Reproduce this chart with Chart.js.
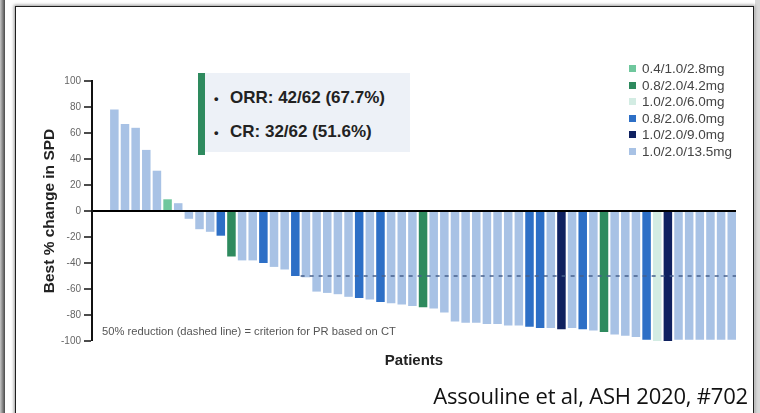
<!DOCTYPE html>
<html>
<head>
<meta charset="utf-8">
<script src="https://cdn.jsdelivr.net/npm/chart.js@4.4.0/dist/chart.umd.min.js"></script>
<style>
  html, body { margin: 0; padding: 0; background: #fff; }
  body { width: 760px; height: 413px; overflow: hidden; position: relative; font-family: "Liberation Sans", Arial, sans-serif; }
  #strip { position: absolute; left: 0; top: 0; width: 5px; height: 413px; background: linear-gradient(to right, #c8c8c8, #4a4a4a); }
  #rstrip { position: absolute; left: 755px; top: 0; width: 5px; height: 413px; background: #d9d9d9; }
  #frame { position: absolute; left: 15px; top: 6px; width: 737px; height: 430px; border: 1.5px solid #1e1e1e; box-shadow: 0 0 3px 1px #9a9a9a; background: #fff; }
  #wrap { position: absolute; left: 0; top: 0; width: 760px; height: 413px; }
  #box { position: absolute; left: 205px; top: 73px; width: 205px; height: 79px; background: #edf1f7; }
  #boxbar { position: absolute; left: 198px; top: 73px; width: 7px; height: 82px; background: #2e8a5e; }
  .stat { position: absolute; left: 214px; font-size: 17px; font-weight: bold; color: #222; line-height: 20px; white-space: nowrap; }
  .stat .b { display: inline-block; width: 16px; font-size: 13px; }
  #legend { position: absolute; left: 629px; top: 61px; font-size: 13.5px; color: #444; }
  #legend div { height: 16.6px; line-height: 16.6px; white-space: nowrap; }
  #legend i { display: inline-block; width: 7px; height: 7px; margin-right: 6px; vertical-align: 1px; }
  #note { position: absolute; left: 102px; top: 325px; font-size: 11.2px; color: #555; white-space: nowrap; }
  #cite { position: absolute; right: 12px; top: 380px; font-family: "Open Sans", sans-serif; font-size: 22px; color: #111; white-space: nowrap; letter-spacing: -0.2px; }
</style>
</head>
<body>
<div id="strip"></div>
<div id="rstrip"></div>
<div id="frame"></div>
<div id="wrap"><canvas id="waterfall"></canvas></div>
<div id="boxbar"></div>
<div id="box"></div>
<div class="stat" style="top:88px"><span class="b">•</span>ORR: 42/62 (67.7%)</div>
<div class="stat" style="top:122px"><span class="b">•</span>CR: 32/62 (51.6%)</div>
<div id="legend"></div>
<div id="note">50% reduction (dashed line) = criterion for PR based on CT</div>
<div id="cite">Assouline et al, ASH 2020, #702</div>

<script>
// 용량군 (범례 순서 그대로)
const doseLabels = ['0.4/1.0/2.8mg', '0.8/2.0/4.2mg', '1.0/2.0/6.0mg', '0.8/2.0/6.0mg', '1.0/2.0/9.0mg', '1.0/2.0/13.5mg'];
const doseColors = ['#6fc79d', '#2e8a5e', '#d3ece3', '#2d6fc6', '#0f2160', '#a8c2e5'];

// 환자별 SPD 최대 변화율(%) — 그림에서 읽은 값
const bestChange = [78, 67, 64, 47, 31, 9, 6, -6, -14, -16,
  -19, -35, -38, -38, -40, -43, -45, -50, -51, -62,
  -63, -64, -66, -67, -68, -70, -71, -72, -73, -74,
  -75, -78, -85, -86, -86, -87, -87, -88, -88, -89,
  -90, -90, -91, -90, -91, -92, -93, -95, -96, -97,
  -99, -100, -100, -99, -99, -99, -99, -99, -99];

// 각 환자의 용량군 (doseLabels 인덱스)
const doseGroup = [5, 5, 5, 5, 5, 0, 5, 5, 5, 5,
  3, 1, 5, 5, 3, 5, 5, 3, 5, 5,
  5, 5, 5, 3, 5, 3, 5, 5, 5, 1,
  5, 5, 5, 5, 5, 5, 5, 5, 5, 3,
  3, 5, 4, 5, 3, 5, 1, 5, 5, 5,
  3, 2, 4, 5, 5, 5, 5, 5, 5];

const yTicks = [-100, -80, -60, -40, -20, 0, 20, 40, 60, 80, 100];
const prThreshold = -50;       // PR 기준선
const prLineFirstPatient = 19; // 점선 시작 환자

const patients = bestChange.map((_, i) => i + 1);

// 범례 (HTML)
document.getElementById('legend').innerHTML = doseLabels
  .map((l, i) => `<div><i style="background:${doseColors[i]}"></i>${l}</div>`).join('');

Chart.defaults.font.family = '"Liberation Sans", Arial, sans-serif';

const X_MIN = -1.1, X_MAX = 59.4;
const barData = patients.map((p, i) => ({ x: p, y: bestChange[i] }));
const prLine = [
  { x: prLineFirstPatient - 0.5, y: prThreshold },
  { x: patients.length + 0.4, y: prThreshold }
];
// x축 눈금은 숨김 — 막대 폭 계산에 끼지 않도록 양 끝만 남김
const edgeTicks = s => { s.ticks = [{ value: X_MIN }, { value: X_MAX }]; };

new Chart(document.getElementById('waterfall'), {
  type: 'bar',
  data: {
    datasets: [
      {
        type: 'line', data: prLine, order: 0, xAxisID: 'x2',
        borderColor: '#46608c', borderWidth: 1.5, borderDash: [4, 5],
        pointRadius: 0, fill: false
      },
      {
        type: 'bar', data: barData, order: 1, xAxisID: 'x', grouped: false,
        backgroundColor: doseGroup.map(g => doseColors[g]),
        borderWidth: 0, barPercentage: 0.8, categoryPercentage: 1
      }
    ]
  },
  options: {
    responsive: true,
    maintainAspectRatio: false,
    animation: false,
    layout: { padding: { top: 81, left: 40.7, right: 24, bottom: 43 } },
    plugins: { legend: { display: false }, tooltip: { enabled: false } },
    scales: {
      x: {
        type: 'linear', min: X_MIN, max: X_MAX, offset: false,
        afterBuildTicks: edgeTicks,
        ticks: { display: false },
        grid: { display: false, drawTicks: false, offset: false },
        border: { display: false },
        title: { display: true, text: 'Patients', color: '#222', font: { size: 15, weight: 'bold' }, padding: 0 },
        afterFit: s => { s.height = 29; }
      },
      x2: {
        type: 'linear', min: X_MIN, max: X_MAX, offset: false, display: false,
        afterBuildTicks: edgeTicks
      },
      y: {
        min: -100, max: 100,
        afterBuildTicks: s => { s.ticks = yTicks.map(v => ({ value: v })); },
        ticks: { color: '#666', font: { size: 10 }, padding: 3 },
        grid: {
          drawOnChartArea: true,
          color: c => (c.tick && c.tick.value === 0 ? '#000' : 'rgba(0,0,0,0)'),
          lineWidth: c => (c.tick && c.tick.value === 0 ? 2 : 0),
          tickColor: '#111', tickLength: 8, tickWidth: 1.5
        },
        border: { display: true, color: '#111', width: 2 },
        title: { display: true, text: 'Best % change in SPD', color: '#222', font: { size: 15.5, weight: 'bold' }, padding: 0 },
        afterFit: s => { s.width = 51.3; }
      }
    }
  }
});
</script>
</body>
</html>
